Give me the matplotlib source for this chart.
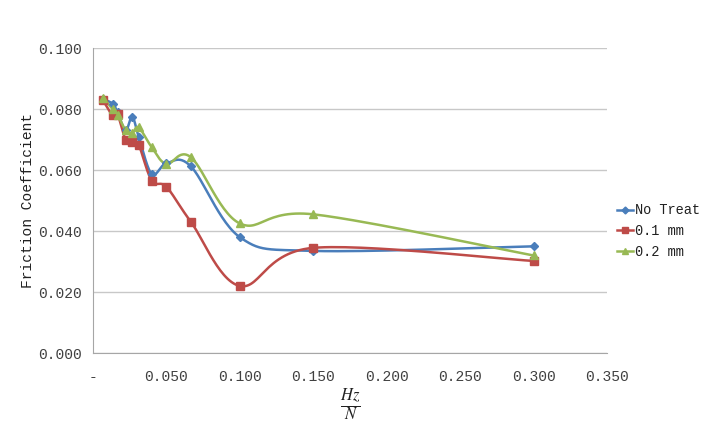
import numpy as np
import matplotlib.pyplot as plt

# x = Hz/N
hz_n = [0.0067, 0.0133, 0.0167, 0.0222, 0.0267, 0.0311, 0.0400, 0.0500, 0.0667, 0.1000, 0.1500, 0.3000]
no_treat = [0.0833, 0.0818, 0.0790, 0.0730, 0.0775, 0.0710, 0.0587, 0.0622, 0.0612, 0.0380, 0.0335, 0.0350]
mm_01 = [0.0830, 0.0780, 0.0783, 0.0700, 0.0692, 0.0683, 0.0565, 0.0545, 0.0430, 0.0220, 0.0345, 0.0302]
mm_02 = [0.0838, 0.0800, 0.0782, 0.0730, 0.0722, 0.0740, 0.0675, 0.0620, 0.0642, 0.0425, 0.0455, 0.0320]
labels = ["No Treat", "0.1 mm", "0.2 mm"]
x_ticks = [0, 0.05, 0.10, 0.15, 0.20, 0.25, 0.30, 0.35]
x_tick_labels = ["-", "0.050", "0.100", "0.150", "0.200", "0.250", "0.300", "0.350"]
y_ticks = [0, 0.02, 0.04, 0.06, 0.08, 0.10]

XMAX, YMAX = 0.35, 0.10
W_PX, H_PX = 514, 305


def smooth(x, y, n=30):
    # Excel-like smoothed line: Bezier segments built in screen space
    pts = np.column_stack([np.array(x) / XMAX * W_PX, np.array(y) / YMAX * H_PX])
    out = []
    t = np.linspace(0, 1, n)[:, None]
    for i in range(len(pts) - 1):
        p0 = pts[max(i - 1, 0)]
        p1 = pts[i]
        p2 = pts[i + 1]
        p3 = pts[min(i + 2, len(pts) - 1)]
        c1 = p1 + (p2 - p0) / 6
        c2 = p2 - (p3 - p1) / 6
        seg = (1 - t) ** 3 * p1 + 3 * (1 - t) ** 2 * t * c1 + 3 * (1 - t) * t ** 2 * c2 + t ** 3 * p2
        out.append(seg if i == 0 else seg[1:])
    out = np.vstack(out)
    return out[:, 0] / W_PX * XMAX, out[:, 1] / H_PX * YMAX


plt.rcParams['mathtext.fontset'] = 'stix'
font = 'Liberation Mono'
txt_color = '#404040'

fig = plt.figure(figsize=(7.11, 4.30), dpi=100)
ax = fig.add_axes([0.1308, 0.179, 0.7229, 0.709])

series = [
    (no_treat, '#4A7EBB', 'D', 4.5),
    (mm_01, '#BE4B48', 's', 6),
    (mm_02, '#98B954', '^', 6),
]
for (vals, color, marker, ms), lab in zip(series, labels):
    sx, sy = smooth(hz_n, vals)
    ax.plot(sx, sy, color=color, lw=1.8, zorder=3)
    ax.plot(hz_n, vals, linestyle='none', marker=marker, ms=ms, color=color, zorder=4)
    ax.plot([], [], color=color, lw=1.8, marker=marker, ms=ms - 1, label=lab)

ax.set_xlim(0, XMAX)
ax.set_ylim(0, YMAX)
ax.set_yticks(y_ticks)
ax.set_yticklabels([f"{v:.3f}" for v in y_ticks])
ax.set_xticks(x_ticks)
ax.set_xticklabels(x_tick_labels)
ax.grid(axis='y', color='#C8C8C8', lw=1)
ax.set_axisbelow(True)
for side in ['top', 'right']:
    ax.spines[side].set_visible(False)
for side in ['left', 'bottom']:
    ax.spines[side].set_color('#A6A6A6')
ax.tick_params(length=0, pad=8, labelsize=10.5, labelcolor=txt_color)
ax.tick_params(axis='x', pad=12)
for lbl in ax.get_xticklabels() + ax.get_yticklabels():
    lbl.set_family(font)

ax.set_ylabel("Friction Coefficient", family=font, fontsize=10.5, color='#202020', labelpad=2)
ax.set_xlabel(r'$\frac{Hz}{N}$', fontsize=17, color='#202020', labelpad=2)

leg = ax.legend(loc='center left', bbox_to_anchor=(0.995, 0.40), frameon=False,
                handlelength=1.2, handletextpad=0.15, labelspacing=0.5,
                prop={'family': font, 'size': 9.8})
for t in leg.get_texts():
    t.set_color('#202020')

fig.savefig('out.png', dpi=100)
